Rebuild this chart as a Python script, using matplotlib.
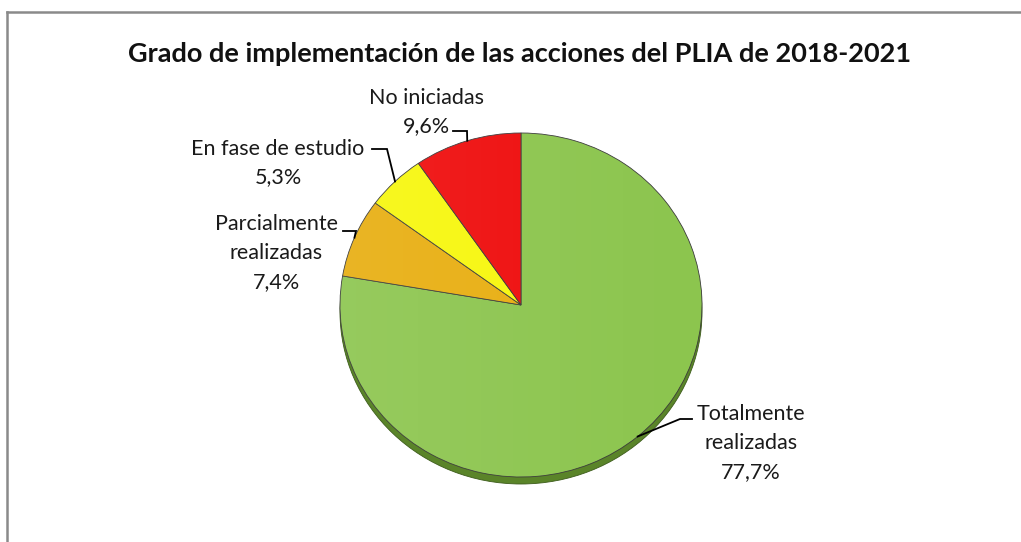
import numpy as np
import matplotlib
matplotlib.use("Agg")
import matplotlib.pyplot as plt
from matplotlib.patches import Circle
from matplotlib.lines import Line2D

# ---- data ----
title = "Grado de implementación de las acciones del PLIA de 2018-2021"
categories = ["Totalmente\nrealizadas", "Parcialmente\nrealizadas", "En fase de estudio", "No iniciadas"]
values = [77.7, 7.4, 5.3, 9.6]
value_labels = ["77,7%", "7,4%", "5,3%", "9,6%"]
colors = ["#8cc54e", "#e8ae10", "#f7f70c", "#ef0c0c"]

plt.rcParams['font.family'] = ['Lato', 'DejaVu Sans']

W, H = 1021, 542
fig = plt.figure(figsize=(W / 100, H / 100), dpi=100)
ax = fig.add_axes([0, 0, 1, 1])

# pie geometry in pixels
cx, cy = 521, 305          # centre (pixels from top-left)
rx, ry = 181, 172          # radii in pixels


def px(x, y):
    """pixel (from top-left) -> data coords"""
    return (x - cx) / rx, (cy - y) / ry


# shadow / depth under the pie
depth = 7 / ry
shadow = Circle((0, -depth), 1.0, facecolor="#5a8429", edgecolor="#3d5c1b", lw=0.6, zorder=1)
ax.add_patch(shadow)

wedges, _ = ax.pie(values, colors=colors, startangle=90, counterclock=False, radius=1.0,
                   wedgeprops=dict(edgecolor="#3a3a3a", linewidth=0.6), center=(0, 0))
for w in wedges:
    w.set_zorder(2)

# subtle light gradient overlay (left lighter)
grad = np.zeros((2, 256, 4))
grad[..., :3] = 1.0
grad[..., 3] = np.linspace(0.09, 0.0, 256)[None, :]
im = ax.imshow(grad, extent=(-1, 1, -1, 1), aspect='auto', zorder=3, interpolation='bilinear')
clip = Circle((0, 0), 1.0, transform=ax.transData)
im.set_clip_path(clip)

ax.set_aspect('auto')
ax.set_xlim(-cx / rx, (W - cx) / rx)
ax.set_ylim(-(H - cy) / ry, cy / ry)
ax.axis('off')

# ---- labels with leader lines ----
# text block centres (pixels), text-side anchor and elbow of the leader line
label_pos = [(751, 443), (276, 253), (278, 163), (426, 112)]
leader_start = [(692, 419), (343, 231), (372, 149), (453, 131)]
leader_elbow = [(680, 419), (356, 231), (387, 149), (467, 131)]

total = sum(values)
start = 90.0
for i, v in enumerate(values):
    span = v / total * 360.0
    mid = np.deg2rad(start - span / 2)
    start -= span
    ex, ey = np.cos(mid), np.sin(mid)
    tx, ty = px(*label_pos[i])
    ax.text(tx, ty, categories[i] + "\n" + value_labels[i], ha='center', va='center',
            fontsize=15.5, color="#1a1a1a", linespacing=1.55, zorder=5)
    sx, sy = px(*leader_start[i])
    bx, by = px(*leader_elbow[i])
    ax.plot([sx, bx, ex], [sy, by, ey], color="black", lw=1.3, zorder=6,
            solid_joinstyle='miter')

fig.text(520 / W, 1 - 54 / H, title, ha='center', va='center', fontsize=19.5,
         fontweight='bold', color="#111111")

# frame (cropped chart border)
fig.add_artist(Line2D([7 / W, 1.0], [1 - 12 / H, 1 - 12 / H], color="#8a8a8a", lw=1.8,
                      transform=fig.transFigure))
fig.add_artist(Line2D([7 / W, 7 / W], [0, 1 - 12 / H], color="#8a8a8a", lw=1.8,
                      transform=fig.transFigure))

fig.savefig("out.png", dpi=100, facecolor="white")
